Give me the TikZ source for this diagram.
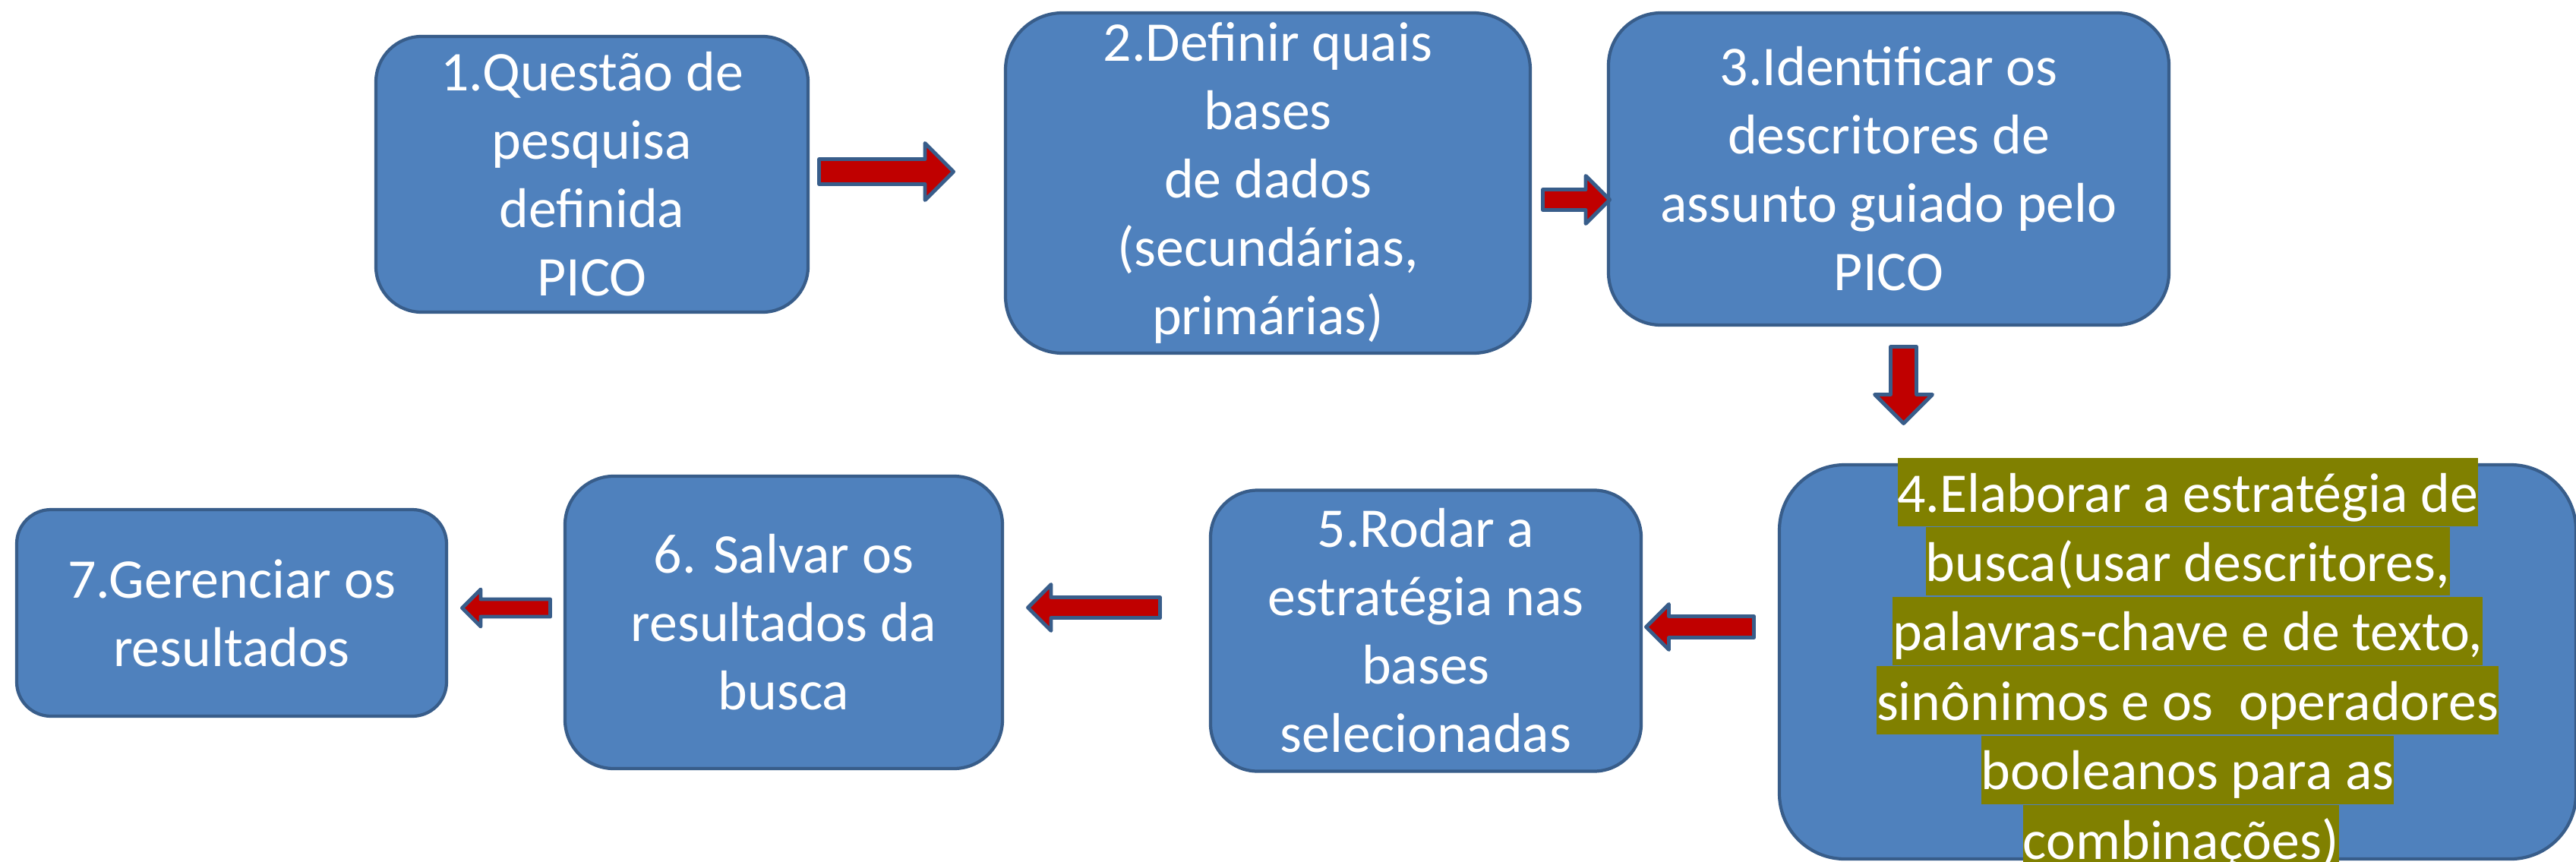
\documentclass[tikz,border=0pt]{standalone}
\usepackage{fontspec}
\setmainfont{Carlito}
\usetikzlibrary{calc,positioning}

\definecolor{boxblue}{HTML}{4F81BD}
\definecolor{boxline}{HTML}{385D8A}
\definecolor{arrowred}{HTML}{C00000}
\definecolor{hlolive}{HTML}{808000}

\tikzset{
	stepbox/.style={draw=boxline, fill=boxblue, line width=1.2pt, text=white, align=center,
		inner sep=0pt, font=\fontsize{21}{25.6}\selectfont},
	hlrow/.style={fill=hlolive, text=white, inner sep=0pt, text height=0.71cm, text depth=0.19cm,
		font=\fontsize{21}{25.6}\selectfont},
	barrow/.style={draw=boxline, fill=arrowred, line width=1.4pt, line join=round}
}

% tail, tip, head half width, shaft half width
\newcommand{\blockarrow}[4]{%
	\path ($#2!#3!#1$) coordinate (nk);
	\draw[barrow] ($#1!#4!90:#2$) -- ($(nk)!#4!-90:#1$) -- ($(nk)!#3!-90:#1$) -- #2
		-- ($(nk)!#3!90:#1$) -- ($(nk)!#4!90:#1$) -- ($#1!#4!-90:#2$) -- cycle;
}

\begin{document}
\begin{tikzpicture}
		\useasboundingbox (0,0) rectangle (33.92,-11.34);
		\node[stepbox, minimum width=5.69cm, minimum height=3.63cm, rounded corners=0.6cm] (q1) at (7.795,-2.295)
		{1.Questão de\\pesquisa\\definida\\PICO};
		\node[stepbox, minimum width=6.91cm, minimum height=4.48cm, rounded corners=0.75cm] (q2) at (16.695,-2.41)
		{2.Definir quais\\bases\\de dados\\(secundárias,\\primárias)};
		\node[stepbox, minimum width=7.38cm, minimum height=4.11cm, rounded corners=0.69cm] (q3) at (24.87,-2.225)
		{3.Identificar os\\descritores de\\assunto guiado pelo\\PICO};
		\node[stepbox, minimum width=10.49cm, minimum height=5.19cm, rounded corners=0.86cm] (q4) at (28.675,-8.715) {};
		\node[stepbox, minimum width=5.67cm, minimum height=3.70cm, rounded corners=0.62cm] (q5) at (18.775,-8.305)
		{5.Rodar a\\estratégia nas\\bases\\selecionadas};
		\node[stepbox, minimum width=5.76cm, minimum height=3.85cm, rounded corners=0.64cm] (q6) at (10.32,-8.195)
		{6. Salvar os\\resultados da\\busca};
		\node[stepbox, minimum width=5.66cm, minimum height=2.72cm, rounded corners=0.45cm] (q7) at (3.05,-8.07)
		{7.Gerenciar os\\resultados};
		% highlighted text of step 4
		\node[hlrow] (r1) at (28.807,-6.48) {4.Elaborar a estratégia de\ };
		\node[hlrow, below=0pt of r1] (r2) {busca(usar descritores,\ };
		\node[hlrow, below=0pt of r2] (r3) {palavras-chave e de texto,\ };
		\node[hlrow, below=0pt of r3] (r4) {sinônimos e os\ \ operadores\ };
		\node[hlrow, below=0pt of r4] (r5) {booleanos para as\ };
		\node[hlrow, below=0pt of r5, xshift=-0.9mm] (r6) {combinações)};
		% arrows
		\coordinate (a1s) at (10.785,-2.26);
		\coordinate (a1e) at (12.555,-2.26);
		\coordinate (a2s) at (20.315,-2.63);
		\coordinate (a2e) at (21.195,-2.63);
		\coordinate (a3s) at (25.065,-4.565);
		\coordinate (a3e) at (25.065,-5.575);
		\coordinate (a4s) at (23.095,-8.255);
		\coordinate (a4e) at (21.675,-8.255);
		\coordinate (a5s) at (15.275,-8.0);
		\coordinate (a5e) at (13.535,-8.0);
		\coordinate (a6s) at (7.245,-8.005);
		\coordinate (a6e) at (6.085,-8.005);
		\blockarrow{(a1s)}{(a1e)}{0.375cm}{0.165cm}
		\blockarrow{(a2s)}{(a2e)}{0.315cm}{0.135cm}
		\blockarrow{(a3s)}{(a3e)}{0.38cm}{0.17cm}
		\blockarrow{(a4s)}{(a4e)}{0.30cm}{0.14cm}
		\blockarrow{(a5s)}{(a5e)}{0.305cm}{0.135cm}
		\blockarrow{(a6s)}{(a6e)}{0.245cm}{0.115cm}
	\end{tikzpicture}
\end{document}
